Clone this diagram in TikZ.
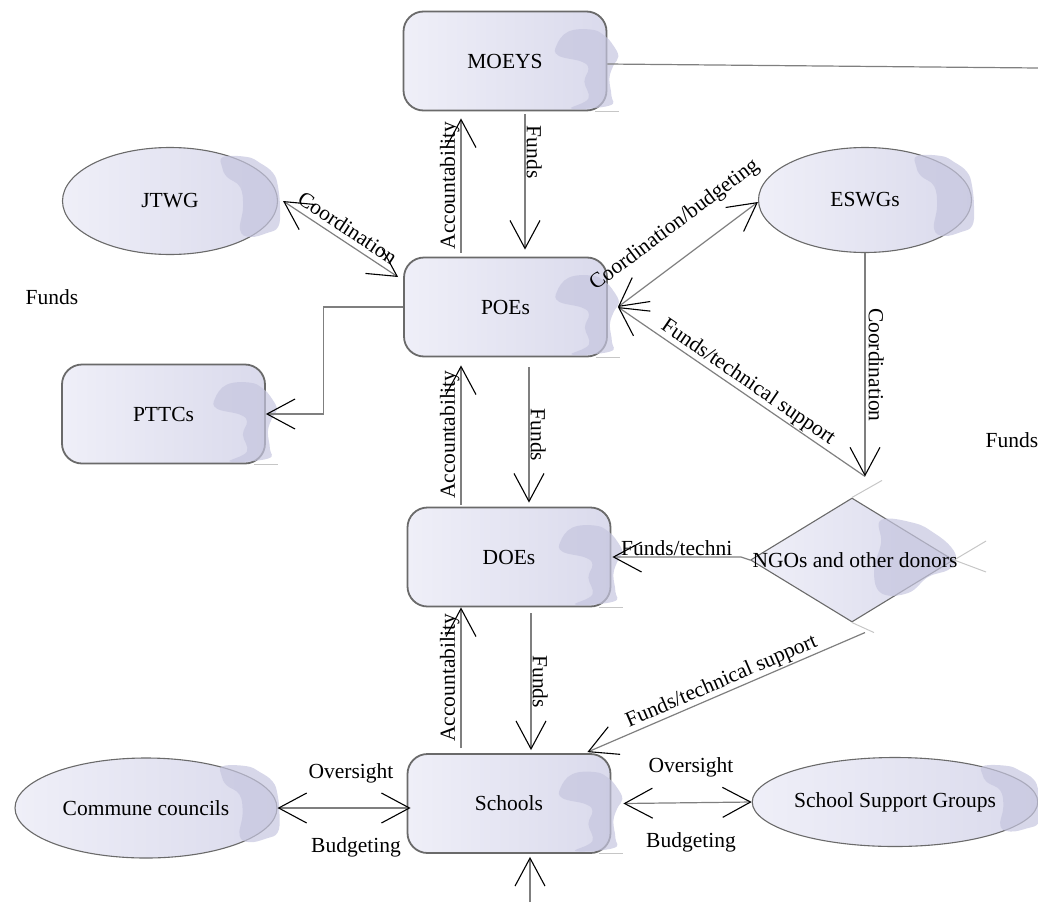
\documentclass[tikz,border=0pt]{standalone}
\usepackage{fontspec}
\setmainfont{Liberation Serif}
\usetikzlibrary{arrows.meta,shapes.geometric,calc}
\definecolor{fillL}{HTML}{EFEFF8}
\definecolor{fillR}{HTML}{DADAEC}
\definecolor{blobc}{HTML}{C6C6DF}
\definecolor{edgec}{HTML}{6A6A6A}
\definecolor{linec}{HTML}{7F7F7F}
\tikzset{
  base/.style={left color=fillL, right color=fillR, draw=edgec, font=\fontsize{21.5}{26}\selectfont, inner sep=0pt, text=black},
  rbox/.style={base, rectangle, rounded corners=20pt, minimum width=203pt, minimum height=99pt, line width=1.8pt},
  oval/.style={base, ellipse, line width=1.1pt},
  dia/.style={base, diamond, line width=1.1pt, minimum width=203pt, minimum height=124pt},
  conn/.style={draw=linec, line width=1.2pt},
  lab/.style={font=\fontsize{21.5}{26}\selectfont, inner sep=1pt, text=black},
  ghost/.style={draw=gray!45, line width=1pt},
}
\newcommand\boxblob[1]{%
  \begin{scope}[shift={(#1.north east)}]
    \fill[blobc,opacity=.7] plot[smooth cycle, tension=.7] coordinates {(-51,35)(-39,21)(-16,19)(-3,25)(6,35)(11,46)(6,55)(2,68)(4,85)(2,95)(-36,98)(-19,88)(-23,71)(-19,58)(-26,51)(-49,45)};
  \end{scope}
  \draw[ghost] ([xshift=-12pt]#1.south east) -- ++(24,0);}
\newcommand\ovalblob[2]{%
  \begin{scope}[shift={(#1.east)}, yscale=#2]
    \fill[blobc,opacity=.7] plot[smooth cycle, tension=.7] coordinates {(-55,-44)(-31,-44)(-18,-38)(-5,-28)(0,-14)(2,9)(0,26)(-11,32)(-28,36)(-38,29)(-35,6)(-38,-14)(-51,-24)(-56,-34)};
  \end{scope}}
\begin{document}
\begin{tikzpicture}[x=1pt,y=-1pt,>={Straight Barb[length=28pt,width=30pt,line width=1.1pt,color=black]}]
\useasboundingbox (0,0) rectangle (1038,902);
% boxes
\node[rbox] (MOEYS) at (505,61) {MOEYS};
\boxblob{MOEYS}
\node[rbox] (POEs) at (505.5,307) {POEs};
\boxblob{POEs}
\node[rbox] (PTTCs) at (163.5,414) {PTTCs};
\boxblob{PTTCs}
\node[rbox] (DOEs) at (509,557) {DOEs};
\boxblob{DOEs}
\node[rbox] (Schools) at (509,803.5) {Schools};
\boxblob{Schools}
% ellipses
\node[oval, minimum width=215pt, minimum height=107pt] (JTWG) at (170,201) {JTWG};
\ovalblob{JTWG}{1}
\node[oval, minimum width=213pt, minimum height=105pt] (ESWGs) at (865,200) {ESWGs};
\ovalblob{ESWGs}{1}
\node[oval, minimum width=262pt, minimum height=100pt] (CC) at (146,808) {Commune councils};
\ovalblob{CC}{0.95}
\node[oval, minimum width=272pt, minimum height=89pt] (SSG) at (895,802) {School Support Groups};
\ovalblob{SSG}{0.82}
% diamond
\node[dia] (NGOs) at (852,560) {};
\begin{scope}[shift={(NGOs.east)}]
  \fill[blobc,opacity=.7] plot[smooth cycle, tension=.7] coordinates {(-73,-40)(-40,-37)(-20,-27)(-3,-13)(2,0)(-6,10)(-26,17)(-46,33)(-73,33)(-80,10)(-73,-17)};
\end{scope}
\draw[ghost] (NGOs.north) -- ++(30,-17);
\draw[ghost] (NGOs.east) -- ++(32,-19);
\draw[ghost] (NGOs.east) -- ++(32,12);
\draw[ghost] (NGOs.south) -- ++(22,10);
\node[lab] (NGOt) at (855,560) {NGOs and other donors};
% free labels
\node[lab] (fundsL) at (52,297) {Funds};
\node[lab] (fundsR) at (1012,440) {Funds};
% connectors
\coordinate (Rend) at (1038,68);
\draw[conn] ([yshift=-3pt]MOEYS.east) -- (Rend);
\draw[conn,->] ([xshift=-44.5pt,yshift=4pt]POEs.north) -- node[lab,sloped,above]{Accountability} ([xshift=-44pt,yshift=-7pt]MOEYS.south);
\draw[conn,->] ([xshift=20pt,yshift=-3pt]MOEYS.south) -- node[lab,sloped,above,pos=.28]{Funds} ([xshift=19.5pt,yshift=7pt]POEs.north);
\draw[conn,<->] ([xshift=5pt]JTWG.east) -- node[lab,sloped,above=4pt,pos=.5]{Coordination} ([xshift=-5pt,yshift=30pt]POEs.west);
\draw[conn,->] (POEs.west) -- ++(-80,0) |- (PTTCs.east);
\draw[conn,<->] ([xshift=10pt]POEs.east) -- node[lab,sloped,above=20pt,pos=.54]{Coordination/budgeting} ([yshift=-2pt]ESWGs.west);
\coordinate (ngotop) at ([xshift=13pt,yshift=21pt]NGOs.north);
\draw[conn,<-] ([xshift=10pt]POEs.east) -- node[lab,sloped,above,pos=.5]{Funds/technical support} (ngotop);
\draw[conn,->] (ESWGs.south) -- node[lab,sloped,above=2pt]{Coordination} (ngotop);
\draw[conn,->] (NGOs.west) -- ++(-9,-3) -- node[lab,above,pos=.5]{Funds/techni} ([xshift=1pt]DOEs.east);
\draw[conn,<-] ([xshift=-24pt,yshift=1pt]Schools.north east) -- node[lab,sloped,above,pos=.5]{Funds/technical support} ([xshift=13pt,yshift=-10pt]NGOs.south);
\draw[conn,->] ([xshift=-48pt,yshift=2pt]DOEs.north) -- node[lab,sloped,above]{Accountability} ([xshift=-44.5pt,yshift=-8pt]POEs.south);
\draw[conn,->] ([xshift=23.5pt,yshift=-10pt]POEs.south) -- node[lab,sloped,above]{Funds} ([xshift=20pt,yshift=4pt]DOEs.north);
\draw[conn,->] ([xshift=-48pt,yshift=5pt]Schools.north) -- node[lab,sloped,above]{Accountability} ([xshift=-48pt]DOEs.south);
\draw[conn,->] ([xshift=22pt,yshift=-6pt]DOEs.south) -- node[lab,sloped,above]{Funds} ([xshift=22pt,yshift=3pt]Schools.north);
\draw[conn,<->] (CC.east) -- ([xshift=4pt]CC.east -| Schools.west);
\node[lab] (ov1) at (351,773) {Oversight};
\node[lab] (bu1) at (356,847) {Budgeting};
\draw[conn,<->] ([xshift=12pt]Schools.east) -- (SSG.west);
\node[lab] (ov2) at (691,767) {Oversight};
\node[lab] (bu2) at (691,842) {Budgeting};
\coordinate (Bend) at (530,902);
\draw[conn,->] (Bend) -- ([xshift=21pt,yshift=-3pt]Schools.south);
\end{tikzpicture}
\end{document}
